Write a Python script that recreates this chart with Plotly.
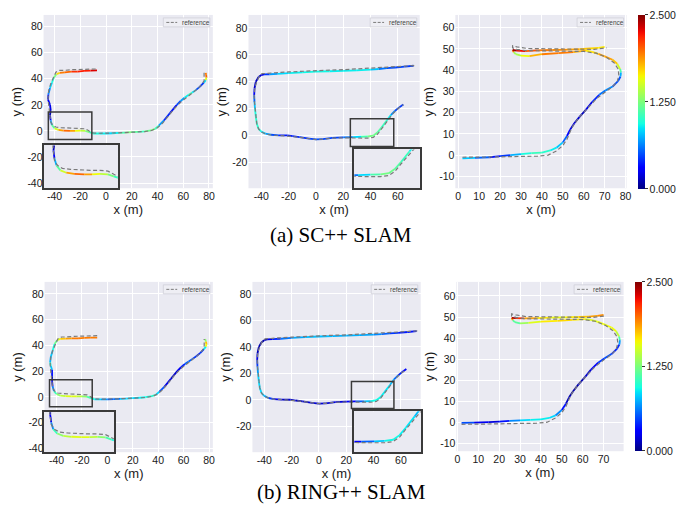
import numpy as np
import plotly.graph_objects as go

W, H = 688, 508
ERR_MAX = 2.5

# ---------------- data ----------------
# Route A: reference trajectory and estimated trajectories (x, y in m, error in m)
ref_a_x = [-8, -14, -20, -26, -32, -36, -39, -41, -43, -44.5, -45, -44.5, -44, -43.5, -43, -41.5, -39, -35, -30, -25,
           -20, -16, -13, -10, -5, 0, 10, 20, 30, 36, 40, 44, 48, 53, 58, 63, 68, 72, 75, 76.2, 76.2, 76.2]
ref_a_y = [47.5, 47.5, 47, 47, 46.5, 46.5, 45, 41, 36, 31, 25, 20, 15, 11, 7, 4.5, 3, 2.5, 2.2, 2,
           2, 1.6, 0, -1.5, -1.8, -1.8, -1.5, -1, -0.5, 0.5, 2.5, 6, 11, 17, 22, 26, 29.5, 33, 36.5, 38.5, 42, 45]

sc_a_x = [-7, -12, -17, -22, -27, -32, -36, -38.5, -40.5, -42, -43.5, -44.8, -45, -43.5, -43, -43.5, -43, -42, -40, -37,
          -33, -28, -24, -20, -16, -13, -10, -5, 0, 5, 10, 15, 20, 25, 30, 35, 38, 41, 45, 50,
          55, 58, 61, 64, 67, 70, 73, 76, 77.5, 78, 77.8, 77.5]
sc_a_y = [46.5, 46.3, 46, 45.5, 45.5, 45, 44.5, 43.5, 41, 37, 33, 28, 24, 20, 16, 12, 8, 4.5, 2, 0.8,
          0.2, 0, 0, 0.2, 0, -1, -2, -2, -2, -1.8, -1.5, -1.3, -1, -0.7, -0.3, 0.5, 1.5, 4, 8, 14,
          20, 23, 25.5, 27.5, 29.5, 31.5, 34, 37, 39, 41, 43, 44.5]
sc_a_err = [2.3, 2.3, 2.1, 2.3, 2.0, 2.0, 1.9, 1.5, 1.0, 0.9, 0.8, 0.5, 0.2, 0.3, 0.15, 0.1, 0.5, 1.0, 1.3, 1.7,
            2.0, 2.0, 1.7, 1.5, 1.4, 1.1, 1.0, 0.9, 0.9, 0.8, 1.0, 1.2, 1.3, 1.0, 1.1, 1.3, 1.2, 0.9, 0.5, 0.3,
            0.4, 0.6, 0.8, 1.0, 1.1, 0.6, 0.4, 0.5, 1.2, 1.9, 2.1, 1.8]

ring_a_x = [-8, -13, -18, -23, -28, -33, -37, -39.5, -41.5, -43, -44.5, -45, -44.5, -43.5, -43.5, -43.5, -43, -42, -40, -37,
            -33, -28, -24, -20, -16, -13, -10, -5, 0, 5, 10, 15, 20, 25, 30, 35, 38, 41, 45, 50,
            55, 58, 61, 64, 67, 70, 73, 76, 77.5, 78, 77.5, 77]
ring_a_y = [46, 46, 45.8, 45.5, 45.5, 45.2, 45, 44, 41, 36, 31, 27, 24, 21, 16, 12, 8, 4.5, 2.2, 1,
            0.5, 0.3, 0.3, 0.4, 0.2, -1, -2, -2, -2, -1.8, -1.5, -1.3, -1, -0.7, -0.3, 0.5, 1.5, 4, 8, 14,
            20, 23, 25.5, 27.5, 29.5, 31.5, 34, 37, 39, 41, 43, 45]
ring_a_err = [1.9, 2.0, 1.9, 2.0, 1.9, 1.8, 1.7, 1.4, 1.0, 0.9, 0.7, 0.8, 1.1, 0.5, 0.2, 0.1, 0.4, 0.9, 1.2, 1.4,
              1.5, 1.6, 1.5, 1.4, 1.2, 1.0, 0.9, 0.8, 0.6, 0.5, 0.7, 0.9, 0.8, 0.9, 0.9, 1.0, 1.0, 0.7, 0.3, 0.15,
              0.2, 0.3, 0.5, 0.6, 0.5, 0.4, 0.4, 0.5, 1.3, 1.9, 1.6, 1.0]

# Route B
ref_b_x = [72, 60, 50, 40, 30, 20, 10, 0, -10, -20, -30, -36, -39.5, -41.5, -43.5, -44.8, -45.2, -45, -44.6, -44,
           -43.3, -42, -40, -37, -33, -27, -21, -17, -12, -5, 0, 5, 12, 20, 30, 38, 42, 45, 48, 52, 56, 60, 64]
ref_b_y = [52, 51.2, 50.5, 49.8, 49.4, 49, 48.7, 48.4, 47.9, 47.3, 46.7, 46.3, 46, 44, 40, 35, 30, 25, 20, 14,
           9, 5, 2.8, 1.3, 0.5, 0.1, 0, -0.6, -1.2, -2.4, -2.9, -2.6, -1.8, -1.6, -1.8, -1.8, -1.2, 1, 5, 10.5, 16, 20, 23]

sc_b_x = [71.5, 65, 58, 52, 46, 40, 30, 20, 10, 0, -10, -20, -28, -34, -38, -40, -42, -44, -45, -45.2,
          -45, -44.6, -44, -43.3, -42, -40, -37, -33, -27, -21, -17, -12, -5, 0, 5, 12, 20, 27, 33, 38,
          42, 45, 48, 52, 55, 58, 61, 64]
sc_b_y = [51.9, 51.2, 50.6, 50.1, 49.5, 49, 48.5, 48.1, 47.8, 47.5, 47, 46.4, 45.9, 45.6, 45.5, 45, 43.5, 40, 35, 30,
          25, 20, 14, 9, 5, 3, 1.5, 0.7, 0.3, 0.3, -0.4, -1, -2.2, -2.8, -2.5, -1.6, -1.3, -1, -0.8, -0.6,
          0, 2.3, 6, 11.5, 15.5, 18.5, 21, 23.2]
sc_b_err = [0.45, 0.45, 0.5, 0.5, 0.7, 0.9, 0.9, 0.9, 0.9, 0.95, 0.9, 0.9, 0.8, 0.6, 0.3, 0.2, 0.15, 0.15, 0.2, 0.4,
            0.7, 0.9, 1.0, 1.0, 1.0, 0.9, 0.8, 0.6, 0.4, 0.35, 0.4, 0.4, 0.45, 0.5, 0.5, 0.45, 0.5, 0.7, 1.0, 1.2,
            1.25, 1.15, 1.1, 1.0, 0.8, 0.5, 0.45, 0.45]

ring_b_x = [71.5, 65, 58, 52, 46, 40, 30, 20, 10, 0, -10, -20, -28, -34, -38, -40, -42, -44, -45, -45.2,
            -45, -44.6, -44, -43.3, -42, -40, -37, -33, -27, -21, -17, -12, -5, 0, 5, 12, 20, 27, 33, 38,
            42, 45, 48, 52, 55, 58, 61, 64]
ring_b_y = [51.9, 51.2, 50.6, 50.1, 49.6, 49.2, 48.8, 48.4, 48.1, 47.8, 47.3, 46.7, 46.1, 45.8, 45.6, 45, 43.5, 40, 35, 30,
            25, 20, 14, 9, 5, 3, 1.4, 0.6, 0.2, 0.1, -0.5, -1.1, -2.3, -2.9, -2.6, -1.7, -1.4, -1.2, -1.1, -0.9,
            -0.3, 2, 5.8, 11.2, 15.5, 18.5, 21, 23.2]
ring_b_err = [0.35, 0.35, 0.4, 0.5, 0.6, 0.7, 0.75, 0.75, 0.75, 0.8, 0.75, 0.7, 0.5, 0.3, 0.15, 0.1, 0.1, 0.1, 0.15, 0.3,
              0.6, 0.8, 0.85, 0.85, 0.85, 0.8, 0.6, 0.3, 0.2, 0.15, 0.15, 0.15, 0.2, 0.2, 0.2, 0.2, 0.2, 0.4, 0.7, 0.9,
              0.95, 0.9, 0.9, 0.85, 0.7, 0.45, 0.35, 0.3]

# Route C
ref_c_x = [2, 10, 20, 30, 38, 43, 47, 50, 52, 53.5, 55, 58, 62, 66, 70, 73.5, 76, 76.8, 76.5, 74.5,
           71, 66, 60, 50, 40, 32, 28, 26, 26, 28, 33, 45, 55, 65, 71]
ref_c_y = [-1, -1, -0.8, -0.6, -0.5, 0, 2, 4.5, 7.5, 11, 14, 18, 22, 26.5, 29.5, 32, 34.5, 37.5, 40.5, 43.5,
           46, 48, 48.8, 48.9, 49, 49.2, 49.8, 50.5, 51.5, 51, 50.2, 50.1, 50, 49.8, 50.5]

sc_c_x = [2, 8, 15, 20, 25, 30, 35, 40, 44, 47, 50, 52, 53.5, 55.5, 58, 61, 64, 67.4, 70.5, 73.8,
          76.5, 77.6, 77.8, 77.4, 76, 73.8, 70, 67, 64, 61, 55, 48, 40, 34, 30, 27.5, 26.5, 26, 28, 32,
          38, 45, 52, 58, 63, 67, 70]
sc_c_y = [-1.5, -1.3, -1, -0.5, 0, 0.5, 0.9, 1.2, 2.2, 3.5, 6, 9, 12, 15, 18, 21.3, 25, 28.4, 30.5, 32.3,
          35, 37, 39, 40.5, 43, 44.9, 46.5, 47.7, 48.6, 49.2, 48.5, 48, 47.5, 46.6, 46.8, 47.5, 48.5, 49.5, 49.2, 49,
          49.3, 49.5, 49.7, 49.9, 50.2, 50.5, 51]
sc_c_err = [0.9, 0.7, 0.4, 0.3, 0.6, 0.9, 1.0, 1.1, 0.9, 0.9, 0.7, 0.4, 0.2, 0.2, 0.15, 0.15, 0.3, 0.5, 0.7, 0.6,
            0.4, 0.6, 0.9, 1.3, 1.7, 1.8, 1.9, 1.8, 1.6, 1.7, 1.9, 2.0, 1.9, 1.7, 1.5, 1.3, 1.4, 2.5, 2.4, 2.1,
            2.0, 1.9, 1.9, 1.8, 1.7, 1.7, 1.6]

ring_c_x = [2, 8, 15, 20, 25, 30, 35, 40, 44, 47, 50, 52, 53.5, 55.5, 58, 61, 64, 67.4, 70.5, 73.8,
            76.5, 77.6, 77.8, 77.4, 76, 73.8, 70, 67, 64, 61, 55, 48, 40, 34, 30, 27.5, 26.5, 26, 28, 32,
            38, 45, 52, 58, 63, 67, 70]
ring_c_y = [-0.3, -0.2, 0, 0.3, 0.6, 0.9, 1.1, 1.3, 2, 3.2, 5.8, 8.8, 11.8, 14.8, 18, 21.3, 25, 28.3, 30.4, 32.4,
            35, 37, 39, 40.8, 43.2, 45, 46.6, 47.8, 48.6, 49, 48.6, 48.2, 47.8, 47.2, 47, 47.6, 48.5, 49.6, 49.5, 49.4,
            49.5, 49.7, 49.8, 50, 50.2, 50.5, 51]
ring_c_err = [0.7, 0.3, 0.2, 0.2, 0.5, 0.8, 0.9, 0.9, 0.9, 0.8, 0.5, 0.2, 0.1, 0.1, 0.1, 0.15, 0.2, 0.4, 0.5, 0.5,
              0.3, 0.5, 0.9, 1.3, 1.6, 1.6, 1.6, 1.6, 1.5, 1.6, 1.7, 1.7, 1.6, 1.5, 1.2, 1.1, 1.2, 2.5, 2.3, 2.0,
              1.7, 1.6, 1.6, 1.7, 1.8, 1.9, 1.9]

# tick values shown on the axes
ticks_a_x = [-40, -20, 0, 20, 40, 60, 80]
ticks_a_y = [-40, -20, 0, 20, 40, 60, 80]
ticks_b_x = [-40, -20, 0, 20, 40, 60]
ticks_b_y = [-20, 0, 20, 40, 60, 80]
ticks_c_x = [0, 10, 20, 30, 40, 50, 60, 70, 80]
ticks_c_y = [-10, 0, 10, 20, 30, 40, 50, 60]
cbar_ticks = [0.0, 1.25, 2.5]

captions = ["(a) SC++ SLAM", "(b) RING++ SLAM"]
legend_label = "reference"


# ---------------- styling helpers ----------------
def jet(t):
    t = min(max(float(t), 0.0), 1.0)
    r = np.interp(t, [0, 0.35, 0.66, 0.89, 1], [0, 0, 1, 1, 0.5])
    g = np.interp(t, [0, 0.125, 0.375, 0.64, 0.91, 1], [0, 0, 1, 1, 0, 0])
    b = np.interp(t, [0, 0.11, 0.34, 0.65, 1], [0.5, 1, 1, 0, 0])
    return "rgb(%d,%d,%d)" % (round(r * 255), round(g * 255), round(b * 255))


JET = [[float(s), jet(s)] for s in np.linspace(0, 1, 41)]
BG = "#EAEAF2"
TICK_FONT = dict(family="Liberation Sans, Arial, sans-serif", size=10.5, color="#1a1a1a")
TITLE_FONT = dict(family="Liberation Sans, Arial, sans-serif", size=13, color="#1a1a1a")
BOX_COLOR = "#3a3a3a"


def xdom(l, r):
    return [l / W, r / W]


def ydom(t, b):
    return [1 - b / H, 1 - t / H]


def fmt(v):
    return str(int(v))


# panel layout (pixel boxes) and content; "zoom" is the marked region, "view" the inset's window
panels = [
    dict(box=(42, 213, 15, 189), xr=(-48.5, 83), yr=(-44, 89), xt=ticks_a_x, yt=ticks_a_y,
         est=(sc_a_x, sc_a_y, sc_a_err), ref=(ref_a_x, ref_a_y),
         inset=dict(box=(42, 117, 146, 189), zoom=(-44.8, -11, -6.5, 14.5), view=(-48.5, -11, -7, 14.5)),
         cbar=None),
    dict(box=(249, 422, 15, 189), xr=(-49.4, 76), yr=(-39, 89.6), xt=ticks_b_x, yt=ticks_b_y,
         est=(sc_b_x, sc_b_y, sc_b_err), ref=(ref_b_x, ref_b_y),
         inset=dict(box=(356, 422, 150, 189), zoom=(25.2, 57, -8, 12.6), view=(25.2, 57, -8, 12.6)),
         cbar=None),
    dict(box=(458, 631, 15, 189), xr=(-1.4, 80.5), yr=(-15.6, 66), xt=ticks_c_x, yt=ticks_c_y,
         est=(sc_c_x, sc_c_y, sc_c_err), ref=(ref_c_x, ref_c_y),
         inset=None, cbar=(643, 15, 190)),
    dict(box=(43, 213, 283, 454), xr=(-49.4, 83), yr=(-43, 89.3), xt=ticks_a_x, yt=ticks_a_y,
         est=(ring_a_x, ring_a_y, ring_a_err), ref=(ref_a_x, ref_a_y),
         inset=dict(box=(42, 113, 414, 454), zoom=(-45.5, -11.9, -7.6, 13.3), view=(-46.8, -11.9, -7.6, 13.3)),
         cbar=None),
    dict(box=(253, 423, 283, 454), xr=(-48.7, 74.5), yr=(-39.5, 89), xt=ticks_b_x, yt=ticks_b_y,
         est=(ring_b_x, ring_b_y, ring_b_err), ref=(ref_b_x, ref_b_y),
         inset=dict(box=(356, 423, 413, 454), zoom=(23.8, 54.9, -6.5, 13.8), view=(23.8, 54.9, -6.5, 13.8)),
         cbar=None),
    dict(box=(459, 628, 283, 453), xr=(-0.5, 79.6), yr=(-13.8, 66.7), xt=ticks_c_x, yt=ticks_c_y,
         est=(ring_c_x, ring_c_y, ring_c_err), ref=(ref_c_x, ref_c_y),
         inset=None, cbar=(640, 283, 453)),
]

fig = go.Figure()
layout = dict(width=W, height=H, margin=dict(l=0, r=0, t=0, b=0), paper_bgcolor="white",
              plot_bgcolor=BG, showlegend=False, shapes=[], annotations=[])


def add_path(xs, ys, errs, xa, ya, width):
    # one short segment per pair of samples, coloured by the mean error of its ends
    for i in range(len(xs) - 1):
        e = 0.5 * (errs[i] + errs[i + 1])
        fig.add_trace(go.Scatter(x=[xs[i], xs[i + 1]], y=[ys[i], ys[i + 1]], mode="lines",
                                 line=dict(color=jet(e / ERR_MAX), width=width),
                                 xaxis=xa, yaxis=ya, hoverinfo="skip", showlegend=False))


def add_ref(rx, ry, xa, ya, width):
    fig.add_trace(go.Scatter(x=rx, y=ry, mode="lines", name=legend_label,
                             line=dict(color="#7a7a7a", width=width, dash="4px,2.5px"),
                             xaxis=xa, yaxis=ya, hoverinfo="skip", showlegend=False))


inset_n = 7
for k, p in enumerate(panels):
    n = k + 1
    sfx = "" if n == 1 else str(n)
    xa, ya = "x" + sfx, "y" + sfx
    l, r, t, b = p["box"]
    layout["xaxis" + sfx] = dict(
        domain=xdom(l, r), range=list(p["xr"]), anchor=ya, showgrid=True, gridcolor="white",
        gridwidth=1, zeroline=False, showline=False, ticks="", tickvals=p["xt"],
        ticktext=[fmt(v) for v in p["xt"]], tickfont=TICK_FONT,
        title=dict(text="x (m)", font=TITLE_FONT, standoff=2))
    layout["yaxis" + sfx] = dict(
        domain=ydom(t, b), range=list(p["yr"]), anchor=xa, showgrid=True, gridcolor="white",
        gridwidth=1, zeroline=False, showline=False, ticks="", tickvals=p["yt"],
        ticktext=[fmt(v) for v in p["yt"]], tickfont=TICK_FONT,
        title=dict(text="y (m)", font=TITLE_FONT, standoff=2))

    ex, ey, ee = p["est"]
    rx, ry = p["ref"]
    add_path(ex, ey, ee, xa, ya, 1.8)
    add_ref(rx, ry, xa, ya, 1.2)

    # legend box for the dashed reference line
    w, h = r - l, b - t
    bx1, bx0 = 1 - 3 / w, 1 - 50 / w
    by1, by0 = 1 - 3 / h, 1 - 12 / h
    layout["shapes"].append(dict(type="rect", xref=xa + " domain", yref=ya + " domain",
                                 x0=bx0, x1=bx1, y0=by0, y1=by1, fillcolor="#EEEEF4",
                                 line=dict(color="#cfcfd8", width=0.8), layer="above"))
    ym = 0.5 * (by0 + by1)
    layout["shapes"].append(dict(type="line", xref=xa + " domain", yref=ya + " domain",
                                 x0=bx0 + 3 / w, x1=bx0 + 14 / w, y0=ym, y1=ym,
                                 line=dict(color="#7a7a7a", width=1, dash="3px,1.5px"), layer="above"))
    layout["annotations"].append(dict(text=legend_label, xref=xa + " domain", yref=ya + " domain",
                                      x=bx0 + 17 / w, y=ym, xanchor="left", yanchor="middle",
                                      showarrow=False,
                                      font=dict(family="Liberation Sans, Arial", size=6.5, color="#444")))

    if p["inset"] is not None:
        ins = p["inset"]
        il, ir, it, ib = ins["box"]
        vx0, vx1, vy0, vy1 = ins["view"]
        zx0, zx1, zy0, zy1 = ins["zoom"]
        isfx = str(inset_n)
        ixa, iya = "x" + isfx, "y" + isfx
        layout["xaxis" + isfx] = dict(domain=xdom(il, ir), range=[vx0, vx1], anchor=iya,
                                      showgrid=False, zeroline=False, showticklabels=False, ticks="",
                                      showline=True, mirror=True, linecolor=BOX_COLOR, linewidth=1.5)
        layout["yaxis" + isfx] = dict(domain=ydom(it, ib), range=[vy0, vy1], anchor=ixa,
                                      showgrid=False, zeroline=False, showticklabels=False, ticks="",
                                      showline=True, mirror=True, linecolor=BOX_COLOR, linewidth=1.5)
        add_path(ex, ey, ee, ixa, iya, 1.8)
        add_ref(rx, ry, ixa, iya, 1.2)
        # zoom region marked on the main axes
        layout["shapes"].append(dict(type="rect", xref=xa, yref=ya, x0=zx0, x1=zx1, y0=zy0, y1=zy1,
                                     line=dict(color=BOX_COLOR, width=1.5), layer="above"))
        inset_n += 1

    if p["cbar"] is not None:
        cx, ct, cb = p["cbar"]
        fig.add_trace(go.Scatter(
            x=ex, y=ey, mode="markers", xaxis=xa, yaxis=ya, hoverinfo="skip", showlegend=False,
            marker=dict(size=1, opacity=0, color=ee, colorscale=JET, cmin=0, cmax=ERR_MAX, showscale=True,
                        colorbar=dict(x=cx / W, xanchor="left", y=1 - ct / H, yanchor="top",
                                      len=(cb - ct) / H, lenmode="fraction", thickness=7,
                                      thicknessmode="pixels", xpad=0, ypad=0, outlinewidth=0,
                                      tickvals=cbar_ticks, ticktext=["%.3f" % v for v in cbar_ticks],
                                      ticks="outside", ticklen=3, tickcolor="#333",
                                      tickfont=TICK_FONT))))

for text, cx, cy in [(captions[0], 342, 236), (captions[1], 343, 494)]:
    layout["annotations"].append(dict(text=text, xref="paper", yref="paper", x=cx / W, y=1 - cy / H,
                                      xanchor="center", yanchor="middle", showarrow=False,
                                      font=dict(family="Liberation Serif, Times New Roman, serif", size=21,
                                                color="black")))

fig.update_layout(**layout)
fig.write_html("out.html")
